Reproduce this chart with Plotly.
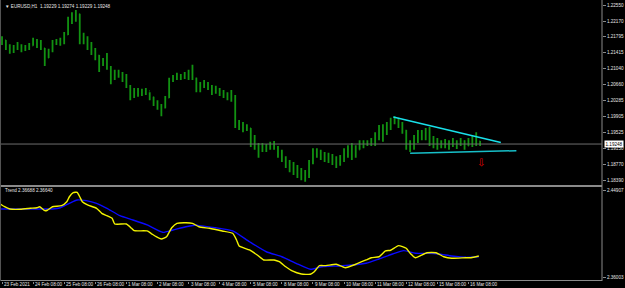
import plotly.graph_objects as go

# ---------------- data ----------------
symbol_header = "\u25bc EURUSD,H1  1.19229 1.19274 1.19229 1.19248"
indicator_header = "Trend 2.36688 2.36640"

# hours since 23 Feb 2021 08:00 (trading hours only), 3-hour buckets
bar_hours = list(range(0, 372, 3))
highs = [1.2181, 1.2172, 1.2162, 1.2160, 1.2167, 1.2162, 1.2160, 1.2165, 1.2177, 1.2174,
         1.2172, 1.2153, 1.2151, 1.2172, 1.2174, 1.2177, 1.2191, 1.2227, 1.2238, 1.2243,
         1.2234, 1.2189, 1.2181, 1.2167, 1.2153, 1.2136, 1.2129, 1.2141, 1.2110, 1.2101,
         1.2101, 1.2096, 1.2091, 1.2065, 1.2058, 1.2058, 1.2056, 1.2058, 1.2048, 1.2037,
         1.2029, 1.2020, 1.2039, 1.2082, 1.2089, 1.2094, 1.2091, 1.2096, 1.2101, 1.2113,
         1.2082, 1.2072, 1.2077, 1.2072, 1.2065, 1.2063, 1.2058, 1.2053, 1.2048, 1.2053,
         1.2041, 1.1982, 1.1977, 1.1972, 1.1963, 1.1946, 1.1927, 1.1927, 1.1925, 1.1930,
         1.1932, 1.1920, 1.1911, 1.1896, 1.1887, 1.1882, 1.1875, 1.1868, 1.1863, 1.1887,
         1.1915, 1.1915, 1.1911, 1.1906, 1.1904, 1.1901, 1.1896, 1.1899, 1.1915, 1.1922,
         1.1927, 1.1922, 1.1934, 1.1934, 1.1934, 1.1939, 1.1953, 1.1970, 1.1972, 1.1977,
         1.1987, 1.1991, 1.1987, 1.1977, 1.1958, 1.1934, 1.1946, 1.1958, 1.1958, 1.1963,
         1.1965, 1.1944, 1.1939, 1.1934, 1.1937, 1.1934, 1.1939, 1.1934, 1.1939, 1.1934,
         1.1939, 1.1944, 1.1953, 1.1932]
lows = [1.2160, 1.2148, 1.2139, 1.2141, 1.2148, 1.2143, 1.2146, 1.2148, 1.2158, 1.2153,
        1.2148, 1.2110, 1.2129, 1.2143, 1.2160, 1.2158, 1.2162, 1.2184, 1.2210, 1.2215,
        1.2162, 1.2162, 1.2148, 1.2136, 1.2124, 1.2096, 1.2110, 1.2101, 1.2067, 1.2077,
        1.2082, 1.2072, 1.2058, 1.2029, 1.2034, 1.2037, 1.2039, 1.2041, 1.2029, 1.2015,
        1.2006, 1.1991, 1.2010, 1.2034, 1.2072, 1.2077, 1.2077, 1.2079, 1.2077, 1.2077,
        1.2048, 1.2048, 1.2058, 1.2053, 1.2041, 1.2044, 1.2039, 1.2034, 1.2029, 1.2025,
        1.1963, 1.1958, 1.1953, 1.1956, 1.1918, 1.1911, 1.1892, 1.1906, 1.1906, 1.1911,
        1.1911, 1.1892, 1.1882, 1.1868, 1.1858, 1.1851, 1.1844, 1.1839, 1.1835, 1.1844,
        1.1877, 1.1892, 1.1887, 1.1882, 1.1880, 1.1875, 1.1868, 1.1873, 1.1882, 1.1892,
        1.1887, 1.1892, 1.1911, 1.1915, 1.1920, 1.1920, 1.1920, 1.1934, 1.1930, 1.1946,
        1.1958, 1.1972, 1.1963, 1.1949, 1.1911, 1.1906, 1.1911, 1.1927, 1.1934, 1.1934,
        1.1920, 1.1915, 1.1911, 1.1915, 1.1915, 1.1911, 1.1918, 1.1913, 1.1920, 1.1911,
        1.1920, 1.1918, 1.1920, 1.1920]
closes = [1.2172, 1.2155, 1.2148, 1.2153, 1.2155, 1.2151, 1.2153, 1.2158, 1.2167, 1.2162,
          1.2153, 1.2129, 1.2146, 1.2167, 1.2165, 1.2167, 1.2184, 1.2219, 1.2229, 1.2234,
          1.2186, 1.2177, 1.2158, 1.2148, 1.2136, 1.2120, 1.2124, 1.2105, 1.2091, 1.2091,
          1.2086, 1.2082, 1.2063, 1.2048, 1.2053, 1.2048, 1.2046, 1.2051, 1.2037, 1.2025,
          1.2015, 1.2010, 1.2034, 1.2077, 1.2084, 1.2086, 1.2084, 1.2086, 1.2091, 1.2082,
          1.2063, 1.2063, 1.2067, 1.2060, 1.2053, 1.2053, 1.2048, 1.2044, 1.2039, 1.2037,
          1.1977, 1.1970, 1.1965, 1.1963, 1.1934, 1.1915, 1.1911, 1.1915, 1.1918, 1.1920,
          1.1915, 1.1901, 1.1892, 1.1877, 1.1873, 1.1863, 1.1858, 1.1854, 1.1849, 1.1882,
          1.1906, 1.1901, 1.1896, 1.1892, 1.1892, 1.1887, 1.1882, 1.1887, 1.1906, 1.1911,
          1.1915, 1.1911, 1.1925, 1.1927, 1.1930, 1.1934, 1.1944, 1.1963, 1.1958, 1.1972,
          1.1982, 1.1982, 1.1972, 1.1958, 1.1920, 1.1920, 1.1934, 1.1944, 1.1949, 1.1953,
          1.1934, 1.1930, 1.1925, 1.1925, 1.1927, 1.1922, 1.1930, 1.1922, 1.1932, 1.1920,
          1.1930, 1.1925, 1.1932, 1.19248]
first_open = 1.2165
last_price = 1.19248

price_ticks = [1.22550, 1.22170, 1.21795, 1.21415, 1.21040, 1.20660,
               1.20285, 1.19905, 1.19525, 1.19150, 1.18770, 1.18390]
price_tick_text = ["1.22550", "1.22170", "1.21795", "1.21415", "1.21040", "1.20660",
                   "1.20285", "1.19905", "1.19525", "1.19150", "1.18770", "1.18390"]
trend_ticks = [2.44907, 2.36003]
trend_tick_text = ["2.44907", "2.36003"]

time_tick_hours = [0, 24, 48, 72, 96, 120, 144, 168, 192, 216, 240, 264, 288, 312, 336, 360]
time_tick_labels = ["23 Feb 2021", "24 Feb 08:00", "25 Feb 08:00", "26 Feb 08:00",
                    "1 Mar 08:00", "2 Mar 08:00", "3 Mar 08:00", "4 Mar 08:00",
                    "5 Mar 08:00", "8 Mar 08:00", "9 Mar 08:00", "10 Mar 08:00",
                    "11 Mar 08:00", "12 Mar 08:00", "15 Mar 08:00", "16 Mar 08:00"]

trend_fast_hours = [-1, 2, 6, 14, 22, 27, 29, 33, 35, 39, 46, 50, 52, 55, 58, 60, 62, 66, 73, 77,
                    81, 85, 87, 96, 100, 102, 112, 115, 119, 123, 127, 131, 135, 142, 147, 152,
                    160, 170, 178, 181, 183, 191, 197, 202, 210, 214, 219, 224, 231, 238, 241,
                    245, 250, 258, 265, 273, 281, 285, 291, 296, 300, 306, 312, 315, 319, 323,
                    328, 335, 341, 347, 358, 362, 368]
trend_fast_vals = [2.4345, 2.4320, 2.4297, 2.4294, 2.4304, 2.4310, 2.4320, 2.4280, 2.4284, 2.4320,
                   2.4331, 2.4371, 2.4422, 2.4463, 2.4467, 2.4422, 2.4371, 2.4338, 2.4304, 2.4253,
                   2.4229, 2.4202, 2.4144, 2.4144, 2.4100, 2.4076, 2.4073, 2.4049, 2.4014, 2.3991,
                   2.4014, 2.4106, 2.4151, 2.4157, 2.4151, 2.4116, 2.4100, 2.4073, 2.4049, 2.3981,
                   2.3920, 2.3879, 2.3828, 2.3777, 2.3777, 2.3759, 2.3708, 2.3665, 2.3634, 2.3631,
                   2.3657, 2.3719, 2.3719, 2.3733, 2.3698, 2.3733, 2.3777, 2.3800, 2.3810, 2.3869,
                   2.3876, 2.3923, 2.3896, 2.3845, 2.3800, 2.3821, 2.3851, 2.3851, 2.3810, 2.3794,
                   2.3800, 2.3800, 2.3818]
trend_slow_hours = [-1, 6, 24, 32, 39, 45, 52, 58, 65, 73, 81, 91, 101, 112, 124, 132, 142, 150,
                    152, 165, 178, 191, 204, 216, 227, 238, 247, 260, 270, 281, 291, 301, 310,
                    319, 329, 337, 347, 358, 368]
trend_slow_vals = [2.4297, 2.4297, 2.4297, 2.4297, 2.4297, 2.4310, 2.4355, 2.4389, 2.4382, 2.4355,
                   2.4304, 2.4229, 2.4185, 2.4134, 2.4059, 2.4083, 2.4116, 2.4134, 2.4127, 2.4106,
                   2.4073, 2.3963, 2.3861, 2.3810, 2.3743, 2.3682, 2.3708, 2.3716, 2.3726, 2.3743,
                   2.3787, 2.3835, 2.3872, 2.3845, 2.3845, 2.3838, 2.3818, 2.3804, 2.3810]

upper_line_hours = [302, 385]
upper_line_prices = [1.1989, 1.19285]
lower_line_hours = [315, 397]
lower_line_prices = [1.1903, 1.1909]
signal_hour = 370
signal_price = 1.1882

# ---------------- styling ----------------
GREEN = "#129212"
GRID = "#8a8a8a"
TXT = "#e6e6e6"
FONT = "Liberation Sans, Arial, DejaVu Sans"
FS = 4.6

opens = [first_open] + closes[:-1]

fig = go.Figure()
fig.add_trace(go.Ohlc(
    x=bar_hours, open=opens, high=highs, low=lows, close=closes,
    increasing=dict(line=dict(color=GREEN, width=1.8)),
    decreasing=dict(line=dict(color=GREEN, width=1.8)),
    tickwidth=0.12, xaxis="x", yaxis="y", hoverinfo="skip"))

fig.add_trace(go.Scatter(x=upper_line_hours, y=upper_line_prices, mode="lines",
                         line=dict(color="#19e0ea", width=1.5), xaxis="x", yaxis="y"))
fig.add_trace(go.Scatter(x=lower_line_hours, y=lower_line_prices, mode="lines",
                         line=dict(color="#17bfc8", width=1.5), xaxis="x", yaxis="y"))

fig.add_trace(go.Scatter(x=trend_slow_hours, y=trend_slow_vals, mode="lines",
                         line=dict(color="#0a0aff", width=1.4, shape="spline", smoothing=0.5),
                         xaxis="x2", yaxis="y2"))
fig.add_trace(go.Scatter(x=trend_fast_hours, y=trend_fast_vals, mode="lines",
                         line=dict(color="#f2f200", width=1.4, shape="spline", smoothing=0.5),
                         xaxis="x2", yaxis="y2"))

# plot area: x px 1..604, y px 1..281
xr = [(1 - 2) / 1.3, (604 - 2) / 1.3]
main_dom = [(281 - 184) / 280, 1.0]
ind_dom = [0.0, (281 - 187) / 280]
main_range = [1.18299, 1.22645]
ind_range = [2.35625, 2.45213]

axis_common = dict(showgrid=False, zeroline=False, showline=False, fixedrange=True)

fig.update_layout(
    width=625, height=288,
    margin=dict(l=1, r=21, t=1, b=7),
    paper_bgcolor="black", plot_bgcolor="black",
    showlegend=False, hovermode=False,
    font=dict(family=FONT, size=FS, color=TXT),
    xaxis=dict(domain=[0, 1], anchor="y", range=xr, showticklabels=False, ticks="",
               rangeslider=dict(visible=False), **axis_common),
    yaxis=dict(domain=main_dom, anchor="x", side="right", range=main_range,
               tickmode="array", tickvals=price_ticks, ticktext=price_tick_text,
               ticks="outside", ticklen=3, tickcolor=GRID, tickwidth=1,
               tickfont=dict(size=FS, color=TXT, family=FONT), **axis_common),
    xaxis2=dict(domain=[0, 1], anchor="y2", range=xr, matches="x",
                tickmode="array", tickvals=time_tick_hours, ticktext=[""] * len(time_tick_hours),
                ticks="outside", ticklen=2, tickcolor=GRID, tickwidth=1, **axis_common),
    yaxis2=dict(domain=ind_dom, anchor="x2", side="right", range=ind_range,
                tickmode="array", tickvals=trend_ticks, ticktext=trend_tick_text,
                ticks="outside", ticklen=3, tickcolor=GRID, tickwidth=1,
                tickfont=dict(size=FS, color=TXT, family=FONT), **axis_common),
)

def py(p):
    return (281 - p) / 280

shapes = [
    dict(type="line", xref="paper", yref="paper", x0=1, x1=1, y0=py(281), y1=py(0),
         line=dict(color=GRID, width=1)),
    dict(type="line", xref="paper", yref="paper", x0=-0.0008, x1=-0.0008, y0=py(281), y1=py(0),
         line=dict(color="#555555", width=1)),
    dict(type="line", xref="paper", yref="paper", x0=0, x1=1, y0=py(186), y1=py(186),
         line=dict(color=GRID, width=2)),
    dict(type="line", xref="paper", yref="paper", x0=0, x1=1, y0=py(280.5), y1=py(280.5),
         line=dict(color=GRID, width=1)),
    dict(type="line", xref="paper", yref="y", x0=0, x1=1, y0=last_price, y1=last_price,
         line=dict(color="#6e6e6e", width=1)),
]
fig.update_layout(shapes=shapes)

annotations = [
    dict(xref="paper", yref="paper", x=0.003, y=py(6), text=symbol_header,
         showarrow=False, xanchor="left", yanchor="middle",
         font=dict(size=FS, color=TXT, family=FONT)),
    dict(xref="paper", yref="paper", x=0.003, y=py(190), text=indicator_header,
         showarrow=False, xanchor="left", yanchor="middle",
         font=dict(size=FS, color=TXT, family=FONT)),
    dict(xref="paper", yref="y", x=1.003, y=last_price, text=str(last_price),
         showarrow=False, xanchor="left", yanchor="middle", bgcolor="white",
         borderpad=0.5, font=dict(size=FS, color="black", family=FONT)),
    dict(xref="x", yref="y", x=signal_hour, y=signal_price, text="\u21e9",
         showarrow=False, xanchor="center", yanchor="middle",
         font=dict(size=10, color="#e00000", family="DejaVu Sans")),
]
for h, lab in zip(time_tick_hours, time_tick_labels):
    annotations.append(dict(xref="x2", yref="paper", x=h, y=py(284.5), text=lab,
                            showarrow=False, xanchor="left", yanchor="middle", xshift=0,
                            font=dict(size=FS, color=TXT, family=FONT)))
fig.update_layout(annotations=annotations)

fig.write_html("out.html")
